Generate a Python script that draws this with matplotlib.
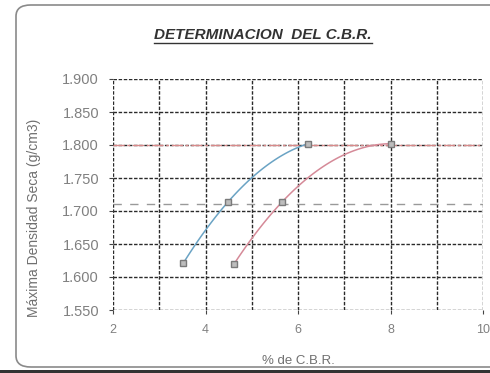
import numpy as np
import matplotlib
matplotlib.use("Agg")
import matplotlib.pyplot as plt
from matplotlib.patches import FancyBboxPatch, Rectangle
from matplotlib.lines import Line2D

plt.rcParams["font.family"] = ["Liberation Sans", "DejaVu Sans"]

# ─── DATA ─────────────────────────────────────────────────────────────────────
cbr_a     = [3.52, 4.49, 6.22]        # blue series (% CBR)
dens_a    = [1.621, 1.714, 1.802]
cbr_b     = [4.62, 5.66, 8.00]        # red series
dens_b    = [1.620, 1.714, 1.802]
mds       = 1.800                     # max dry density line
mds_95    = 1.710                     # 95% of MDS
xticks    = [2, 4, 6, 8, 10]
yticks    = [1.550, 1.600, 1.650, 1.700, 1.750, 1.800, 1.850, 1.900]

W, H = 490, 373
fig = plt.figure(figsize=(W / 100, H / 100), dpi=100)
fig.patch.set_facecolor("white")

# chart area border (rounded, Excel style)
frame = FancyBboxPatch((16 / W, 6 / H), 500 / W, 362 / H,
                       boxstyle="round,pad=0,rounding_size=0.03",
                       transform=fig.transFigure, fill=False,
                       edgecolor="#8a8a8a", linewidth=1.2)
fig.add_artist(frame)
fig.add_artist(Rectangle((0, 0), 1, 3 / H, transform=fig.transFigure,
                         facecolor="#333333", edgecolor="none"))

ax = fig.add_axes([113 / W, 1 - 310 / H, 370 / W, 231 / H])
ax.set_xlim(2, 10)
ax.set_ylim(1.550, 1.900)
ax.set_xticks(xticks)
ax.set_xticks(np.arange(3, 10, 2), minor=True)
ax.set_yticks(yticks)
ax.set_xticklabels([str(v) for v in xticks], color="#808080", fontsize=9)
ax.set_yticklabels([f"{v:.3f}" for v in yticks], color="#808080", fontsize=10.5)
ax.tick_params(axis="both", which="both", length=3, color="#444444", pad=7)
ax.tick_params(axis="x", which="minor", length=0)
for s in ax.spines.values():
    s.set_visible(False)
ax.grid(True, which="both", color="#2a2a2a", linestyle=(0, (2.5, 1.2)), linewidth=1.0)
ax.set_axisbelow(True)

# reference lines
ax.axhline(mds, color="#d98a8a", linestyle=(0, (8, 2, 2, 2)), linewidth=1.0)
ax.axhline(mds_95, color="#999999", linestyle=(0, (6, 6)), linewidth=1.0)

# quadratic trendlines through the points
for xs, ys, col in [(cbr_a, dens_a, "#6aa3c4"), (cbr_b, dens_b, "#d58a98")]:
    coef = np.polyfit(xs, ys, 2)
    xx = np.linspace(min(xs), max(xs), 100)
    ax.plot(xx, np.polyval(coef, xx), color=col, linewidth=1.1)
    ax.plot(xs, ys, linestyle="none", marker="s", markersize=4.5,
            markerfacecolor="#bdbdbd", markeredgecolor="#7a7a7a")

ax.set_xlabel("% de C.B.R.", fontsize=9.5, color="#707070", labelpad=14)
ax.set_ylabel("Máxima Densidad Seca (g/cm3)", fontsize=10, color="#707070")
ax.yaxis.set_label_coords(-0.195, 0.40)

t = fig.text(263 / W, 1 - 35 / H, "DETERMINACION  DEL C.B.R.", ha="center", va="center",
             fontsize=11, fontweight="bold", fontstyle="italic", color="#333333")
fig.canvas.draw()
bb = t.get_window_extent().transformed(fig.transFigure.inverted())
fig.add_artist(Line2D([bb.x0, bb.x1], [bb.y0 - 1 / H, bb.y0 - 1 / H],
                      transform=fig.transFigure, color="#333333", linewidth=1.0))

fig.savefig("out.png", dpi=100)
